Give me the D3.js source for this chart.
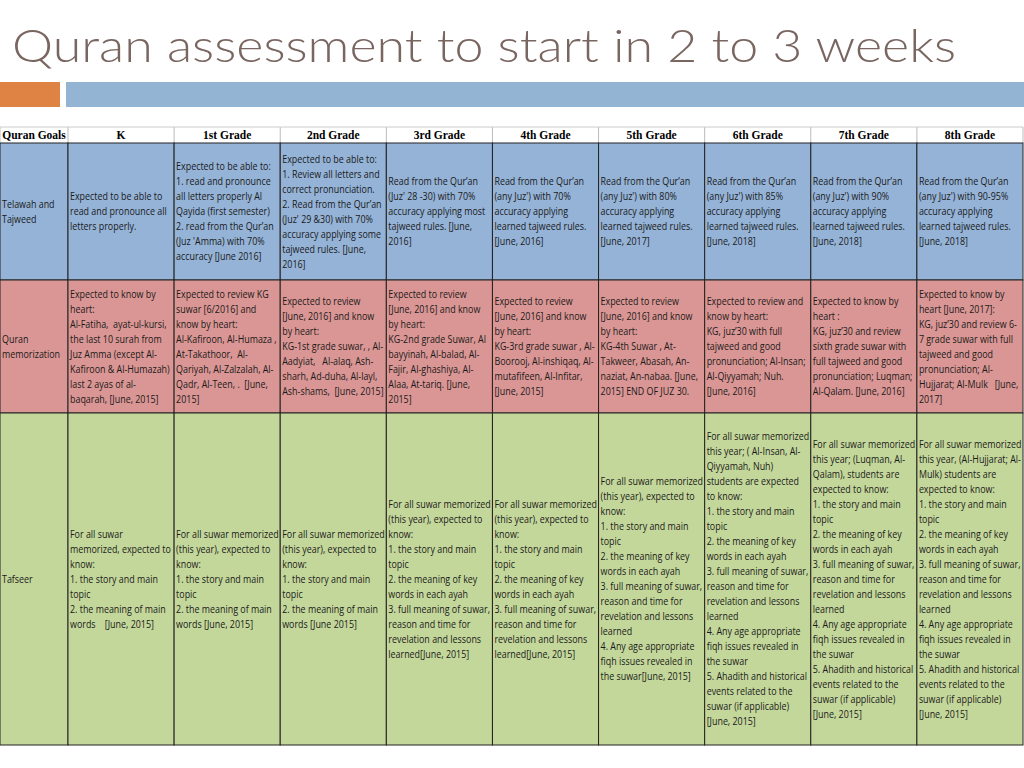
<!DOCTYPE html>
<html>
<head>
<meta charset="utf-8">
<script src="https://cdn.jsdelivr.net/npm/d3@7"></script>
<style>
  body { margin: 0; background: #fff; }
  svg { display: block; }
</style>
</head>
<body>
<svg id="slide" width="1024" height="768"></svg>
<script>
const title = 'Quran assessment to start in 2 to 3 weeks';
const columns = ['Quran Goals', 'K', '1st Grade', '2nd Grade', '3rd Grade', '4th Grade',
  '5th Grade', '6th Grade', '7th Grade', '8th Grade'];
const goals = ['telawah', 'memorization', 'tafseer'];

const telawah = [
  ['Telawah and', 'Tajweed'],
  ['Expected to be able to', 'read and pronounce all', 'letters properly.'],
  ['Expected to be able to:', '1. read and pronounce', 'all letters properly Al', 'Qayida (first semester)', '2. read from the Qur\u2019an', '(Juz \'Amma) with 70%', 'accuracy [June 2016]'],
  ['Expected to be able to:', '1. Review all letters and', 'correct pronunciation.', '2. Read from the Qur\u2019an', '(Juz\' 29 &30) with 70%', 'accuracy applying some', 'tajweed rules. [June,', '2016]'],
  ['Read from the Qur\u2019an', '(Juz\' 28 -30) with 70%', 'accuracy applying most', 'tajweed rules. [June,', '2016]'],
  ['Read from the Qur\u2019an', '(any Juz\') with 70%', 'accuracy applying', 'learned tajweed rules.', '[June, 2016]'],
  ['Read from the Qur\u2019an', '(any Juz\') with 80%', 'accuracy applying', 'learned tajweed rules.', '[June, 2017]'],
  ['Read from the Qur\u2019an', '(any Juz\') with 85%', 'accuracy applying', 'learned tajweed rules.', '[June, 2018]'],
  ['Read from the Qur\u2019an', '(any Juz\') with 90%', 'accuracy applying', 'learned tajweed rules.', '[June, 2018]'],
  ['Read from the Qur\u2019an', '(any Juz\') with 90-95%', 'accuracy applying', 'learned tajweed rules.', '[June, 2018]']
];

const memorization = [
  ['Quran', 'memorization'],
  ['Expected to know by', 'heart:', 'Al-Fatiha,  ayat-ul-kursi,', 'the last 10 surah from', 'Juz Amma (except Al-', 'Kafiroon & Al-Humazah)', 'last 2 ayas of al-', 'baqarah, [June, 2015]'],
  ['Expected to review KG', 'suwar [6/2016] and', 'know by heart:', 'Al-Kafiroon, Al-Humaza ,', 'At-Takathoor,  Al-', 'Qariyah, Al-Zalzalah, Al-', 'Qadr, Al-Teen, .  [June,', '2015]'],
  ['Expected to review', '[June, 2016] and know', 'by heart:', 'KG-1st grade suwar, , Al-', 'Aadyiat,   Al-alaq, Ash-', 'sharh, Ad-duha, Al-layl,', 'Ash-shams,  [June, 2015]'],
  ['Expected to review', '[June, 2016] and know', 'by heart:', 'KG-2nd grade Suwar, Al', 'bayyinah, Al-balad, Al-', 'Fajir, Al-ghashiya, Al-', 'Alaa, At-tariq. [June,', '2015]'],
  ['Expected to review', '[June, 2016] and know', 'by heart:', 'KG-3rd grade suwar , Al-', 'Boorooj, Al-inshiqaq, Al-', 'mutafifeen, Al-Infitar,', '[June, 2015]'],
  ['Expected to review', '[June, 2016] and know', 'by heart:', 'KG-4th Suwar , At-', 'Takweer, Abasah, An-', 'naziat, An-nabaa. [June,', '2015] END OF JUZ 30.'],
  ['Expected to review and', 'know by heart:', 'KG, juz\u201930 with full', 'tajweed and good', 'pronunciation; Al-Insan;', 'Al-Qiyyamah; Nuh.', '[June, 2016]'],
  ['Expected to know by', 'heart :', 'KG, juz\u201930 and review', 'sixth grade suwar with', 'full tajweed and good', 'pronunciation; Luqman;', 'Al-Qalam. [June, 2016]'],
  ['Expected to know by', 'heart [June, 2017]:', 'KG, juz\u201930 and review 6-', '7 grade suwar with full', 'tajweed and good', 'pronunciation; Al-', 'Hujjarat; Al-Mulk   [June,', '2017]']
];

const tafseerTail = ['1. the story and main', 'topic', '2. the meaning of key', 'words in each ayah',
  '3. full meaning of suwar,', 'reason and time for', 'revelation and lessons', 'learned',
  '4. Any age appropriate', 'fiqh issues revealed in', 'the suwar', '5. Ahadith and historical',
  'events related to the', 'suwar (if applicable)', '[June, 2015]'];

const tafseer = [
  ['Tafseer'],
  ['For all suwar', 'memorized, expected to', 'know:', '1. the story and main', 'topic', '2. the meaning of main', 'words    [June, 2015]'],
  ['For all suwar memorized', '(this year), expected to', 'know:', '1. the story and main', 'topic', '2. the meaning of main', 'words [June, 2015]'],
  ['For all suwar memorized', '(this year), expected to', 'know:', '1. the story and main', 'topic', '2. the meaning of main', 'words [June 2015]'],
  ['For all suwar memorized', '(this year), expected to', 'know:', '1. the story and main', 'topic', '2. the meaning of key', 'words in each ayah', '3. full meaning of suwar,', 'reason and time for', 'revelation and lessons', 'learned[June, 2015]'],
  ['For all suwar memorized', '(this year), expected to', 'know:', '1. the story and main', 'topic', '2. the meaning of key', 'words in each ayah', '3. full meaning of suwar,', 'reason and time for', 'revelation and lessons', 'learned[June, 2015]'],
  ['For all suwar memorized', '(this year), expected to', 'know:', '1. the story and main', 'topic', '2. the meaning of key', 'words in each ayah', '3. full meaning of suwar,', 'reason and time for', 'revelation and lessons', 'learned', '4. Any age appropriate', 'fiqh issues revealed in', 'the suwar[June, 2015]'],
  ['For all suwar memorized', 'this year; ( Al-Insan, Al-', 'Qiyyamah, Nuh)', 'students are expected', 'to know:'].concat(tafseerTail),
  ['For all suwar memorized', 'this year; (Luqman, Al-', 'Qalam), students are', 'expected to know:'].concat(tafseerTail),
  ['For all suwar memorized', 'this year, (Al-Hujjarat; Al-', 'Mulk) students are', 'expected to know:'].concat(tafseerTail)
];

const rowData = { telawah, memorization, tafseer };
const rowFill = { telawah: '#95b3d7', memorization: '#da9694', tafseer: '#c4d79b' };

const svg = d3.select('#slide');

// title + decorative bars
svg.append('text')
  .attr('x', 12).attr('y', 62)
  .attr('font-family', 'Lato, sans-serif')
  .attr('font-weight', 300)
  .attr('font-size', 46)
  .attr('fill', '#7a6661')
  .attr('textLength', 944).attr('lengthAdjust', 'spacingAndGlyphs')
  .text(title);
svg.append('rect').attr('x', 0).attr('y', 82).attr('width', 60).attr('height', 25).attr('fill', '#df8344');
svg.append('rect').attr('x', 66).attr('y', 82).attr('width', 958).attr('height', 25).attr('fill', '#94b4d3');

// column layout: first column narrower, the rest equal
const firstW = 68;
const x = d3.scaleLinear().domain([1, columns.length]).range([firstW, 1023]);
const colX = i => i === 0 ? 0 : x(i);
const colRight = i => i === columns.length - 1 ? 1023 : colX(i + 1);

const headerTop = 127, headerBottom = 143;
const y = d3.scaleOrdinal().domain(goals).range([143, 280, 413]);
const rowBottom = { telawah: 280, memorization: 413, tafseer: 745 };

// header
const header = svg.append('g');
header.selectAll('text').data(columns).join('text')
  .attr('x', (d, i) => (colX(i) + colRight(i)) / 2)
  .attr('y', headerBottom - 4)
  .attr('text-anchor', 'middle')
  .attr('font-family', '"Liberation Serif", serif')
  .attr('font-weight', 'bold')
  .attr('font-size', 11.5)
  .text(d => d);
header.selectAll('line').data(d3.range(columns.length + 1)).join('line')
  .attr('x1', i => i === columns.length ? 1023 : colX(i)).attr('x2', i => i === columns.length ? 1023 : colX(i))
  .attr('y1', headerTop).attr('y2', headerBottom)
  .attr('stroke', '#bbb');
header.append('line').attr('x1', 0).attr('x2', 1023).attr('y1', headerTop).attr('y2', headerTop).attr('stroke', '#ccc');

// body cells
const lineH = 15;
goals.forEach(g => {
  const top = y(g), bottom = rowBottom[g];
  const cells = svg.append('g').selectAll('g').data(rowData[g]).join('g');
  cells.append('rect')
    .attr('x', (d, i) => colX(i)).attr('y', top)
    .attr('width', (d, i) => colRight(i) - colX(i)).attr('height', bottom - top)
    .attr('fill', rowFill[g])
    .attr('stroke', '#222').attr('stroke-width', 1);
  cells.each(function (lines, i) {
    const cx = colX(i) + 2;
    const maxW = colRight(i) - colX(i) - 3;
    const startY = (top + bottom) / 2 - (lines.length * lineH) / 2 + 11;
    const t = d3.select(this).selectAll('text').data(lines).join('text')
      .attr('x', cx)
      .attr('y', (d, k) => startY + k * lineH)
      .attr('font-family', '"Open Sans", sans-serif')
      .attr('font-size', 10)
      .attr('fill', '#1a1a1a')
      .attr('xml:space', 'preserve')
      .text(d => d);
    t.each(function () {
      const w = this.getComputedTextLength();
      d3.select(this).attr('textLength', Math.min(w * 0.89, maxW)).attr('lengthAdjust', 'spacingAndGlyphs');
    });
  });
});
</script>
</body>
</html>
